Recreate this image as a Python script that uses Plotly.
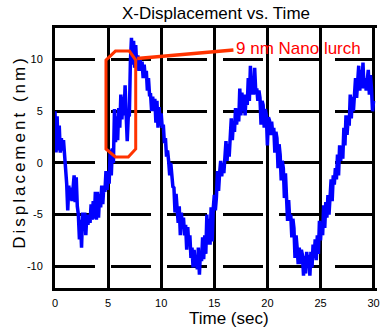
import plotly.graph_objects as go

# ---- data ----
time_s = [
    0.0, 0.1, 0.2, 0.3, 0.4, 0.5, 0.6, 0.7, 0.8, 0.9,
    1.0, 1.1, 1.2, 1.3, 1.4, 1.5, 1.6, 1.7, 1.8, 1.9,
    2.0, 2.1, 2.2, 2.3, 2.4, 2.5, 2.6, 2.7, 2.8, 2.9,
    3.0, 3.1, 3.2, 3.3, 3.4, 3.5, 3.6, 3.7, 3.8, 3.9,
    4.0, 4.1, 4.2, 4.3, 4.4, 4.5, 4.6, 4.7, 4.8, 4.9,
    5.0, 5.1, 5.2, 5.3, 5.4, 5.5, 5.6, 5.7, 5.8, 5.9,
    6.0, 6.1, 6.2, 6.3, 6.4, 6.5, 6.6, 6.7, 6.8, 6.9,
    7.0, 7.1, 7.2, 7.3, 7.4, 7.5, 7.6, 7.7, 7.8, 7.9,
    8.0, 8.1, 8.2, 8.3, 8.4, 8.5, 8.6, 8.7, 8.8, 8.9,
    9.0, 9.1, 9.2, 9.3, 9.4, 9.5, 9.6, 9.7, 9.8, 9.9,
    10.0, 10.1, 10.2, 10.3, 10.4, 10.5, 10.6, 10.7, 10.8, 10.9,
    11.0, 11.1, 11.2, 11.3, 11.4, 11.5, 11.6, 11.7, 11.8, 11.9,
    12.0, 12.1, 12.2, 12.3, 12.4, 12.5, 12.6, 12.7, 12.8, 12.9,
    13.0, 13.1, 13.2, 13.3, 13.4, 13.5, 13.6, 13.7, 13.8, 13.9,
    14.0, 14.1, 14.2, 14.3, 14.4, 14.5, 14.6, 14.7, 14.8, 14.9,
    15.0, 15.1, 15.2, 15.3, 15.4, 15.5, 15.6, 15.7, 15.8, 15.9,
    16.0, 16.1, 16.2, 16.3, 16.4, 16.5, 16.6, 16.7, 16.8, 16.9,
    17.0, 17.1, 17.2, 17.3, 17.4, 17.5, 17.6, 17.7, 17.8, 17.9,
    18.0, 18.1, 18.2, 18.3, 18.4, 18.5, 18.6, 18.7, 18.8, 18.9,
    19.0, 19.1, 19.2, 19.3, 19.4, 19.5, 19.6, 19.7, 19.8, 19.9,
    20.0, 20.1, 20.2, 20.3, 20.4, 20.5, 20.6, 20.7, 20.8, 20.9,
    21.0, 21.1, 21.2, 21.3, 21.4, 21.5, 21.6, 21.7, 21.8, 21.9,
    22.0, 22.1, 22.2, 22.3, 22.4, 22.5, 22.6, 22.7, 22.8, 22.9,
    23.0, 23.1, 23.2, 23.3, 23.4, 23.5, 23.6, 23.7, 23.8, 23.9,
    24.0, 24.1, 24.2, 24.3, 24.4, 24.5, 24.6, 24.7, 24.8, 24.9,
    25.0, 25.1, 25.2, 25.3, 25.4, 25.5, 25.6, 25.7, 25.8, 25.9,
    26.0, 26.1, 26.2, 26.3, 26.4, 26.5, 26.6, 26.7, 26.8, 26.9,
    27.0, 27.1, 27.2, 27.3, 27.4, 27.5, 27.6, 27.7, 27.8, 27.9,
    28.0, 28.1, 28.2, 28.3, 28.4, 28.5, 28.6, 28.7, 28.8, 28.9,
    29.0, 29.1, 29.2, 29.3, 29.4, 29.5, 29.6, 29.7, 29.8, 29.9,
    30.0,
]

displacement_nm = [
    5.0, 1.0, 4.5, 1.2, 3.6, 1.0, 2.4, 1.2, 2.2, 0.8,
    0.2, -2.0, -4.6, -2.2, -3.6, -2.4, -3.7, -2.6, -1.2, -3.8,
    -1.4, -4.2, -5.0, -7.4, -5.5, -8.2, -4.8, -6.0, -4.8, -7.0,
    -5.0, -6.0, -5.0, -5.8, -4.0, -5.5, -3.7, -5.4, -2.8, -5.5,
    -2.8, -5.3, -3.0, -4.3, -2.2, -4.0, -2.2, -2.8, -0.8, -2.6,
    -0.9, -2.0, 1.3, -1.2, 1.4, 0.0, 5.2, 2.0, 4.5, 2.2,
    5.3, 3.4, 6.6, 4.2, 6.4, 4.6, 7.5, 4.7, 2.1, 4.5,
    4.6, 9.8, 12.1, 9.5, 11.8, 9.2, 11.4, 9.3, 10.4, 8.9,
    10.2, 8.9, 9.8, 8.2, 9.5, 8.2, 8.9, 7.0, 8.2, 6.6,
    6.6, 5.0, 6.4, 5.0, 6.2, 3.9, 6.0, 3.4, 5.4, 3.6,
    4.8, 3.4, 3.7, 1.9, 2.4, 0.6, 1.2, 0.2, -1.2, 0.0,
    -1.0, -2.3, -2.4, -4.8, -3.0, -5.0, -5.8, -4.2, -7.0, -4.8,
    -6.3, -5.3, -7.0, -6.0, -8.4, -6.2, -8.0, -7.0, -9.2, -8.2,
    -10.1, -8.4, -10.0, -9.2, -10.3, -8.2, -10.8, -8.5, -9.5, -7.2,
    -9.3, -7.0, -8.8, -5.0, -7.9, -5.4, -7.9, -4.3, -7.6, -4.4,
    -3.1, -4.6, -3.3, -0.8, -2.7, -1.0, 0.2, -1.3, 0.0, -1.0,
    0.6, 2.1, 0.2, 1.8, 0.6, 2.1, 4.3, 2.2, 4.0, 3.0,
    5.3, 3.7, 5.0, 4.0, 7.2, 4.6, 6.8, 5.0, 6.6, 4.6,
    6.6, 5.6, 8.2, 6.0, 9.4, 6.6, 8.0, 6.6, 9.2, 7.0,
    7.2, 6.0, 7.0, 6.3, 3.7, 6.0, 5.6, 3.4, 5.2, 4.6,
    1.7, 4.4, 4.1, 2.7, 4.0, 2.8, 3.4, 1.0, 3.0, 2.4,
    -0.5, 1.8, 0.8, -1.7, 0.2, -0.5, -3.4, -1.0, -3.4, -5.6,
    -3.6, -5.4, -5.0, -7.2, -5.4, -6.3, -9.2, -7.0, -8.2, -9.8,
    -8.2, -9.8, -8.4, -8.9, -10.9, -9.0, -10.7, -8.6, -10.1, -8.9,
    -10.9, -8.6, -10.1, -7.9, -9.2, -7.4, -9.4, -7.0, -8.8, -5.6,
    -7.5, -5.8, -7.0, -4.1, -6.3, -3.8, -5.3, -3.1, -5.0, -3.2,
    -1.6, -3.7, -1.2, -2.1, -0.5, -1.6, 0.8, -1.2, 1.7, 0.2,
    1.5, 0.4, 3.4, 1.7, 4.6, 2.7, 4.2, 3.6, 6.6, 4.3,
    6.4, 5.0, 6.6, 8.2, 6.3, 7.8, 9.4, 7.0, 9.0, 7.2,
    9.7, 7.2, 8.2, 7.0, 8.0, 9.0, 6.6, 8.5, 7.2, 5.0,
    6.0,
]

x_ticks = [0, 5, 10, 15, 20, 25, 30]
y_ticks = [-10, -5, 0, 5, 10]

title_text = "X-Displacement vs. Time"
x_label = "Time (sec)"
y_label = "Displacement (nm)"
note_text = "9 nm Nano lurch"

# highlight box (data coords) and connector
box_t = [4.80, 5.69, 7.00, 7.60, 7.60, 6.90, 5.69, 4.80]
box_y = [9.95, 10.82, 10.82, 9.95, 1.35, 0.58, 0.58, 1.35]
conn_t = [7.74, 16.80]
conn_y = [10.10, 10.92]

FONT = "Liberation Sans, Arial, sans-serif"
ORANGE = "#FF3300"

fig = go.Figure()
fig.add_trace(go.Scatter(
    x=time_s, y=displacement_nm, mode="lines",
    line=dict(color="#0000FF", width=3.5), showlegend=False, hoverinfo="skip",
))

path = "M " + " L ".join(f"{t},{v}" for t, v in zip(box_t, box_y)) + " Z"
fig.add_shape(type="path", path=path, xref="x", yref="y",
              line=dict(color=ORANGE, width=3), layer="above")
fig.add_shape(type="line", x0=conn_t[0], y0=conn_y[0], x1=conn_t[1], y1=conn_y[1],
              xref="x", yref="y", line=dict(color=ORANGE, width=3.5), layer="above")

fig.add_annotation(x=16.88, y=11.06, xref="x", yref="y", text=note_text,
                   showarrow=False, xanchor="left", yanchor="middle",
                   font=dict(family=FONT, size=17, color="#FF0000"))

# title
fig.add_annotation(x=(217.5 - 55) / 325, y=(288 - 14) / 260, xref="paper", yref="paper",
                   text=title_text, showarrow=False, xanchor="center", yanchor="middle",
                   font=dict(family=FONT, size=17, color="black"))

fig.add_annotation(x=(231 - 55) / 325, y=-(318 - 288) / 260, xref="paper", yref="paper",
                   text=x_label, showarrow=False, xanchor="center", yanchor="middle",
                   font=dict(family=FONT, size=17, color="black"))
fig.add_annotation(x=(19 - 55) / 325, y=(288 - 151.5) / 260, xref="paper", yref="paper",
                   text=f'<span style="letter-spacing:3px">{y_label}</span>',
                   textangle=-90, showarrow=False, xanchor="center", yanchor="middle",
                   font=dict(family=FONT, size=17, color="black"))

fig.update_layout(
    width=380, height=330,
    margin=dict(l=55, r=0, t=28, b=42),
    paper_bgcolor="white", plot_bgcolor="white",
    font=dict(family=FONT, size=11, color="black"),
    xaxis=dict(
        range=[0, 30.32], tickvals=x_ticks, ticktext=[str(v) for v in x_ticks],
        showgrid=True, gridcolor="black", gridwidth=2.5,
        showline=True, linecolor="black", linewidth=3, mirror=True,
        zeroline=False, ticks="", ticklabelstandoff=3,
        ticklabeloverflow="allow",
        tickfont=dict(family=FONT, size=11, color="black"),
    ),
    yaxis=dict(
        range=[-12.1, 13.05], tickvals=y_ticks, ticktext=[str(v) for v in y_ticks],
        showgrid=True, gridcolor="black", gridwidth=2.5, griddash="40px,16px",
        showline=True, linecolor="black", linewidth=3,
        zeroline=False, ticks="", ticklabelstandoff=7,
        tickfont=dict(family=FONT, size=11, color="black"),
    ),
)

fig.write_html("out.html")
